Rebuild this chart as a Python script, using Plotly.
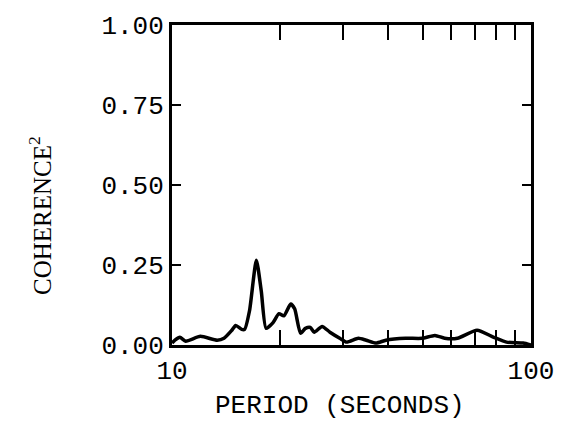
import plotly.graph_objects as go

period = [10.0, 10.19, 10.52, 10.92, 12.0, 13.36, 13.96, 14.68, 15.05, 15.63, 15.93,
          16.44, 17.18, 17.73, 18.29, 19.12, 19.86, 20.49, 21.41, 21.96, 22.80, 23.53,
          24.28, 24.90, 26.18, 27.54, 29.33, 30.65, 33.04, 34.75, 37.01, 39.42, 44.70,
          49.75, 54.00, 57.48, 62.39, 70.74, 78.76, 85.45, 95.09, 100.0]
coherence2 = [0.006, 0.015, 0.024, 0.012, 0.027, 0.015, 0.021, 0.046, 0.061, 0.049, 0.049,
              0.107, 0.265, 0.168, 0.052, 0.070, 0.098, 0.091, 0.128, 0.113, 0.037, 0.052,
              0.055, 0.040, 0.058, 0.040, 0.021, 0.009, 0.021, 0.015, 0.006, 0.015, 0.021,
              0.021, 0.030, 0.021, 0.021, 0.046, 0.024, 0.009, 0.006, 0.0]

x_tickvals = [10, 100]
x_ticktext = ["10", "100"]
x_minor_tickvals = [20, 30, 40, 50, 60, 70, 80, 90]
y_tickvals = [0, 0.25, 0.5, 0.75, 1.0]
y_ticktext = ["0.00", "0.25", "0.50", "0.75", "1.00"]

fig = go.Figure()
fig.add_trace(go.Scatter(x=period, y=coherence2, mode="lines",
                         line=dict(color="black", width=3.5, shape="spline", smoothing=0.6),
                         showlegend=False, hoverinfo="skip"))

mono = "Liberation Mono, Courier New, monospace"
fig.update_layout(
    width=566, height=433,
    margin=dict(l=172, r=28, t=17, b=88),
    paper_bgcolor="white", plot_bgcolor="white",
    font=dict(family=mono, color="black", size=26),
    xaxis=dict(type="log", range=[1, 2], tickvals=x_tickvals, ticktext=x_ticktext,
               ticks="inside", ticklen=15, tickwidth=2, tickcolor="black",
               minor=dict(tickvals=x_minor_tickvals, ticks="inside", ticklen=15,
                          tickwidth=2, tickcolor="black", showgrid=False),
               showline=True, linewidth=3, linecolor="black", mirror="ticks",
               showgrid=False, zeroline=False, tickfont=dict(family=mono, size=26)),
    yaxis=dict(range=[0, 1], tickvals=y_tickvals, ticktext=y_ticktext,
               ticks="inside", ticklen=9, tickwidth=2, tickcolor="black",
               showline=True, linewidth=3, linecolor="black", mirror="ticks",
               showgrid=False, zeroline=False, tickfont=dict(family=mono, size=26)),
    annotations=[
        dict(text="PERIOD (SECONDS)", xref="paper", yref="paper", x=0.467, y=-0.19,
             xanchor="center", yanchor="middle", showarrow=False,
             font=dict(family=mono, size=26, color="black")),
        dict(text="COHERENCE<sup>2</sup>", xref="paper", yref="paper", x=-0.366, y=0.405,
             xanchor="center", yanchor="middle", showarrow=False, textangle=-90,
             font=dict(family="Liberation Serif, Times New Roman, serif", size=25, color="black")),
    ],
)

fig.write_html("out.html")
